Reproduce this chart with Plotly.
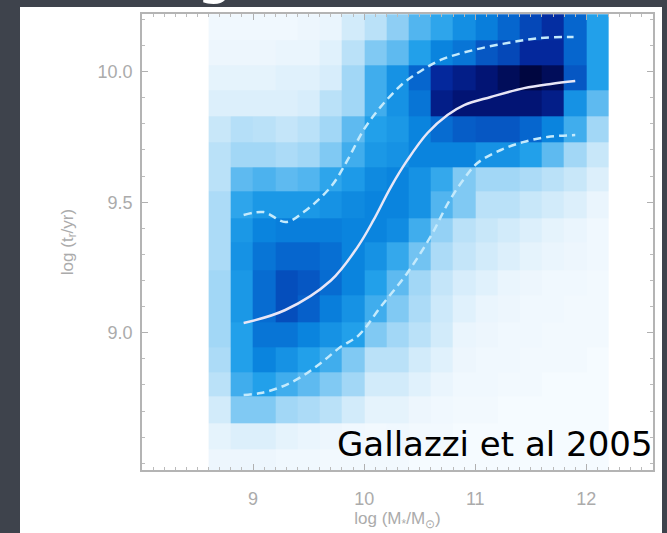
import plotly.graph_objects as go

# ---- data ----
x_edges = [8.6, 8.8, 9.0, 9.2, 9.4, 9.6, 9.8, 10.0, 10.2, 10.4, 10.6,
           10.8, 11.0, 11.2, 11.4, 11.6, 11.8, 12.0, 12.2]
# row edges, top to bottom
y_edges_top_down = [10.22, 10.12, 10.025, 9.93, 9.83, 9.73, 9.635, 9.54, 9.44,
                    9.345, 9.24, 9.145, 9.04, 8.945, 8.85, 8.755, 8.655, 8.555, 8.47]

# density (0 = white, 10 = darkest), rows listed top to bottom
density_top_down = [
    [0.3, 0.3, 0.3, 0.3, 0.4, 0.5, 1.0, 1.5, 2.3, 3.2, 3.8, 4.6, 5.2, 6.0, 7.0, 7.8, 6.0, 4.0],
    [0.4, 0.4, 0.4, 0.5, 0.5, 0.7, 1.5, 2.5, 3.0, 4.0, 5.0, 5.5, 6.5, 7.0, 8.0, 8.0, 6.0, 4.0],
    [0.6, 0.6, 0.6, 0.7, 0.7, 0.9, 2.0, 3.5, 4.5, 6.0, 8.0, 8.5, 9.0, 9.5, 10.0, 9.5, 6.5, 4.0],
    [0.8, 0.8, 0.8, 0.8, 0.9, 1.5, 2.0, 3.5, 4.5, 5.5, 8.5, 9.0, 9.0, 9.0, 9.0, 8.5, 4.5, 3.0],
    [1.2, 1.6, 1.5, 1.3, 1.5, 2.0, 3.0, 4.0, 4.3, 5.0, 5.8, 6.3, 6.5, 6.5, 6.0, 5.0, 3.5, 2.0],
    [1.5, 2.0, 2.0, 1.8, 2.0, 2.5, 3.5, 4.3, 4.5, 5.0, 5.0, 5.0, 4.5, 4.5, 4.0, 3.0, 2.0, 1.2],
    [1.5, 3.0, 3.3, 3.0, 3.2, 3.8, 4.2, 4.8, 5.0, 4.5, 3.7, 2.5, 2.0, 2.0, 1.8, 1.5, 1.2, 0.8],
    [1.8, 3.8, 4.3, 4.3, 4.3, 4.5, 4.8, 5.0, 5.0, 4.5, 3.2, 2.5, 1.5, 1.5, 1.2, 1.0, 0.8, 0.5],
    [1.8, 4.3, 5.0, 5.2, 5.2, 5.2, 5.0, 5.0, 4.7, 3.5, 2.2, 1.5, 1.2, 1.0, 0.8, 0.6, 0.5, 0.3],
    [1.8, 4.5, 5.5, 6.0, 6.0, 5.7, 5.0, 4.5, 3.7, 2.7, 1.8, 1.3, 1.0, 0.8, 0.6, 0.5, 0.4, 0.3],
    [2.0, 4.3, 5.8, 6.8, 6.5, 5.8, 5.0, 4.0, 3.0, 2.0, 1.3, 0.9, 0.7, 0.5, 0.4, 0.3, 0.3, 0.2],
    [2.0, 4.3, 5.8, 6.8, 6.2, 5.2, 4.5, 3.5, 2.5, 1.8, 1.1, 0.7, 0.5, 0.4, 0.3, 0.3, 0.2, 0.2],
    [2.0, 4.0, 5.5, 5.5, 5.0, 4.5, 4.0, 2.5, 2.0, 1.5, 1.0, 0.5, 0.4, 0.3, 0.3, 0.2, 0.2, 0.2],
    [1.8, 4.0, 5.0, 4.5, 4.0, 3.5, 2.5, 1.5, 1.5, 1.0, 0.7, 0.4, 0.3, 0.3, 0.2, 0.2, 0.2, 0.1],
    [1.5, 3.5, 4.0, 3.5, 3.0, 2.5, 2.0, 1.0, 1.0, 0.7, 0.5, 0.3, 0.3, 0.2, 0.2, 0.1, 0.1, 0.1],
    [1.0, 2.5, 2.5, 2.0, 1.8, 1.5, 1.0, 0.6, 0.6, 0.4, 0.3, 0.2, 0.2, 0.1, 0.1, 0.1, 0.1, 0.1],
    [0.6, 0.8, 0.8, 0.6, 0.5, 0.4, 0.3, 0.2, 0.3, 0.2, 0.2, 0.1, 0.1, 0.1, 0.1, 0.1, 0.1, 0.1],
    [0.4, 0.4, 0.4, 0.3, 0.3, 0.2, 0.2, 0.2, 0.2, 0.1, 0.1, 0.1, 0.1, 0.1, 0.1, 0.1, 0.1, 0.1],
]

median_x = [8.915, 9.29, 9.70, 9.94, 10.085, 10.24, 10.39, 10.57, 10.75, 10.9, 11.14, 11.44, 11.68, 11.9]
median_y = [9.037, 9.087, 9.20, 9.328, 9.432, 9.558, 9.662, 9.765, 9.834, 9.872, 9.903, 9.937, 9.953, 9.964]

upper_x = [8.915, 9.095, 9.293, 9.455, 9.698, 9.851, 9.995, 10.148, 10.35, 10.5, 10.688, 10.985, 11.291, 11.588, 11.885]
upper_y = [9.451, 9.462, 9.424, 9.462, 9.558, 9.662, 9.777, 9.865, 9.955, 10.0, 10.045, 10.083, 10.11, 10.129, 10.133]

lower_x = [8.915, 9.07, 9.25, 9.43, 9.61, 9.79, 9.95, 10.15, 10.39, 10.6, 10.76, 10.9, 11.02, 11.23, 11.43, 11.65, 11.9]
lower_y = [8.761, 8.769, 8.792, 8.83, 8.884, 8.946, 8.99, 9.10, 9.23, 9.37, 9.5, 9.59, 9.65, 9.70, 9.73, 9.75, 9.757]

x_ticks = [9, 10, 11, 12]
y_ticks = [9.0, 9.5, 10.0]
y_ticklabels = ["9.0", "9.5", "10.0"]

# ---- figure ----
W, H = 667, 533
L, R, T, B = 142, 14, 14, 63
pw, ph = W - L - R, H - T - B

def px_x(px):
    return (px - L) / pw

def px_y(py):
    return (H - B - py) / ph

colorscale = [
    [0.00, "#F8FCFF"], [0.05, "#EAF5FD"], [0.10, "#D2EBFA"], [0.20, "#A2D7F6"],
    [0.30, "#5EBAF0"], [0.40, "#22A0EA"], [0.50, "#0A84DE"], [0.60, "#0666CE"],
    [0.70, "#0548B8"], [0.80, "#04289C"], [0.90, "#021474"], [1.00, "#000640"],
]

fig = go.Figure()
fig.add_trace(go.Heatmap(
    x=x_edges, y=y_edges_top_down[::-1], z=density_top_down[::-1],
    zmin=0, zmax=10, colorscale=colorscale, showscale=False, hoverinfo="skip",
))
fig.add_trace(go.Scatter(x=upper_x, y=upper_y, mode="lines",
                         line=dict(color="#C4EAFC", width=2.5, dash="8px,5px", shape="spline"),
                         showlegend=False))
fig.add_trace(go.Scatter(x=lower_x, y=lower_y, mode="lines",
                         line=dict(color="#C4EAFC", width=2.5, dash="8px,5px", shape="spline"),
                         showlegend=False))
fig.add_trace(go.Scatter(x=median_x, y=median_y, mode="lines",
                         line=dict(color="#E8E6F6", width=2.5, shape="spline"),
                         showlegend=False))

axis_common = dict(
    showgrid=False, zeroline=False, showline=True, linecolor="#B4B4B4", linewidth=1.5,
    mirror="ticks", ticks="inside", ticklen=6, tickwidth=1.2, tickcolor="#B0B0B0",
    tickfont=dict(family="Liberation Sans", size=18, color="#ABABAB"),
    minor=dict(ticks="inside", ticklen=3, tickcolor="#BBBBBB", dtick=0.1, showgrid=False),
)

fig.update_xaxes(range=[8.0, 12.6], tickvals=x_ticks, ticktext=[str(v) for v in x_ticks],
                 ticklabelstandoff=12,
                 title=dict(text="log (M<sub>*</sub>/M<sub>⊙</sub>)", standoff=2,
                            font=dict(family="Liberation Sans", size=17, color="#ABABAB")),
                 **axis_common)
fig.update_yaxes(range=[8.474, 10.221], tickvals=y_ticks, ticktext=y_ticklabels,
                 ticklabelstandoff=4,
                 title=dict(text="log (t<sub>r</sub>/yr)", standoff=20,
                            font=dict(family="Liberation Sans", size=17, color="#ABABAB")),
                 **axis_common)

fig.update_layout(
    width=W, height=H, margin=dict(l=L, r=R, t=T, b=B, autoexpand=False),
    paper_bgcolor="#3E434C", plot_bgcolor="#F8FBFE",
    showlegend=False,
    shapes=[dict(type="rect", xref="paper", yref="paper", layer="below",
                 x0=px_x(20), x1=px_x(662), y0=px_y(H + 20), y1=px_y(7),
                 fillcolor="#FFFFFF", line=dict(width=0))],
    annotations=[
        dict(text="Gallazzi et al 2005", xref="paper", yref="paper",
             x=px_x(655), y=px_y(466), xanchor="right", yanchor="bottom",
             showarrow=False, font=dict(family="DejaVu Sans", size=34, color="#000000")),
        dict(text="g", xref="paper", yref="paper",
             x=px_x(215), y=px_y(7), xanchor="center", yanchor="bottom",
             showarrow=False, font=dict(family="DejaVu Sans", size=60, color="#FFFFFF")),
    ],
)

fig.write_html("out.html")
